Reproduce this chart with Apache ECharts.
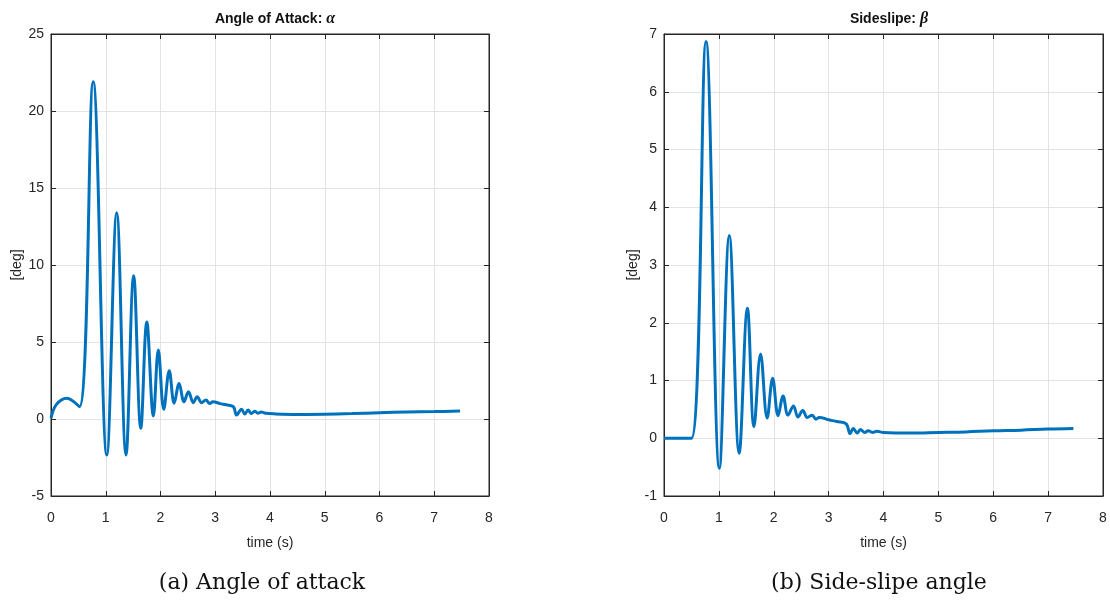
<!DOCTYPE html>
<html><head><meta charset="utf-8">
<script src="https://cdn.jsdelivr.net/npm/echarts@6/dist/echarts.min.js"></script>
<style>html,body{margin:0;padding:0;background:#fff}#c{width:1110px;height:603px}</style>
</head><body><div id="c"></div>
<script>
// time (s), angle of attack alpha (deg)
const alphaData = [
 [0.00,0.05],[0.10,0.95],[0.29,1.35],[0.52,0.8],
 [0.77,21.9],[1.02,-2.34],[1.20,13.4],[1.37,-2.34],
 [1.51,9.3],[1.64,-0.6],[1.75,6.3],[1.87,0.2],[1.96,4.48],
 [2.06,0.63],[2.16,3.14],[2.25,1.02],[2.34,2.3],[2.43,1.12],
 [2.51,1.77],[2.60,1.06],[2.67,1.45],[2.75,1.06],[2.83,1.23],[2.90,1.0],
 [2.96,1.12],[3.09,1.0],[3.20,0.92],[3.33,0.8],[3.39,0.26],[3.48,0.63],[3.54,0.32],[3.60,0.58],[3.66,0.36],[3.72,0.5],
 [3.78,0.38],[3.84,0.45],[3.92,0.37],[4.1,0.33],[4.5,0.30],[5.0,0.31],[5.5,0.35],[6.0,0.41],[6.5,0.45],[7.0,0.48],[7.47,0.52]
];
// time (s), sideslip beta (deg)
const betaData = [
 [0,0],[0.25,0],[0.50,0],[0.765,6.87],
 [1.01,-0.52],[1.19,3.51],[1.37,-0.26],[1.52,2.25],[1.64,0.2],
 [1.76,1.46],[1.88,0.35],[1.98,1.04],[2.08,0.39],[2.17,0.73],
 [2.26,0.40],[2.36,0.56],[2.44,0.37],[2.53,0.48],[2.61,0.36],[2.70,0.40],
 [2.77,0.33],[2.83,0.36],[3.0,0.32],[3.15,0.29],[3.32,0.25],[3.39,0.08],[3.45,0.17],[3.52,0.09],[3.58,0.15],[3.66,0.10],
 [3.72,0.13],[3.80,0.10],[3.88,0.12],[4.0,0.10],[4.5,0.09],[5.0,0.10],[5.5,0.11],[6.0,0.13],[6.5,0.14],[7.0,0.16],[7.46,0.17]
];
const xTicks = {min:0, max:8, interval:1};
const alphaTicks = {min:-5, max:25, interval:5};
const betaTicks = {min:-1, max:7, interval:1};
const titles = ['Angle of Attack: ', 'Sideslipe: '];
const greek = ['α', 'β'];
const captions = ['(a) Angle of attack', '(b) Side-slipe angle'];
const yName = '[deg]';
const xName = 'time (s)';

const axColor = '#262626';
const lab = {color:axColor, fontFamily:'Liberation Sans', fontSize:14};
const grids = [
  {left:51, top:34, width:438, height:462},
  {left:664, top:34, width:439, height:462}
];
function xAx(i, top){
  return Object.assign({type:'value', gridIndex:i, position: top?'top':'bottom',
    axisLine:{show:true, onZero:false, lineStyle:{color:axColor, width:1}},
    axisTick:{show:true, inside:true, length:5, lineStyle:{color:axColor}},
    axisLabel: top?{show:false}:Object.assign({margin:15}, lab),
    splitLine:{show:!top, lineStyle:{color:'#e3e3e3', width:1}},
    name: top?'':xName, nameLocation:'middle', nameGap:40,
    nameTextStyle:Object.assign({}, lab, {fontSize:14})
  }, xTicks);
}
function yAx(i, t, right){
  return Object.assign({type:'value', gridIndex:i, position: right?'right':'left',
    axisLine:{show:true, onZero:false, lineStyle:{color:axColor, width:1}},
    axisTick:{show:true, inside:true, length:5, lineStyle:{color:axColor}},
    axisLabel: right?{show:false}:Object.assign({margin:7}, lab),
    splitLine:{show:!right, lineStyle:{color:'#e3e3e3', width:1}},
    name: right?'':yName, nameLocation:'middle', nameGap:24, nameRotate:90,
    nameTextStyle:Object.assign({}, lab, {fontSize:14})
  }, t);
}
const centers = [270, 884];
const capX = [262, 879];
const option = {
  animation:false,
  backgroundColor:'#fff',
  title: titles.map((t,i)=>({
    text:'{b|'+t+'}{g|'+greek[i]+'}',
    left:centers[i], top:6, textAlign:'center',
    textStyle:{rich:{
      b:{fontFamily:'Liberation Sans', fontWeight:'bold', fontSize:14, color:'#111'},
      g:{fontFamily:'Liberation Serif', fontStyle:'italic', fontWeight:'bold', fontSize:16, color:'#111'}
    }}
  })),
  graphic: captions.map((c,i)=>({
    type:'text', x:capX[i], y:572,
    style:{text:c, font:'22px "DejaVu Serif"', fill:'#111', textAlign:'center'}
  })),
  grid: grids.map(g=>Object.assign({show:true, borderColor:axColor, borderWidth:1}, g)),
  xAxis:[xAx(0,false), xAx(0,true), xAx(1,false), xAx(1,true)],
  yAxis:[yAx(0,alphaTicks,false), yAx(0,alphaTicks,true), yAx(1,betaTicks,false), yAx(1,betaTicks,true)],
  series:[
    {type:'line', xAxisIndex:0, yAxisIndex:0, data:alphaData, smooth:0.38, showSymbol:false,
     lineStyle:{color:'#0072BD', width:3}},
    {type:'line', xAxisIndex:2, yAxisIndex:2, data:betaData, smooth:0.38, showSymbol:false,
     lineStyle:{color:'#0072BD', width:3}}
  ]
};
echarts.init(document.getElementById('c')).setOption(option);
</script></body></html>
